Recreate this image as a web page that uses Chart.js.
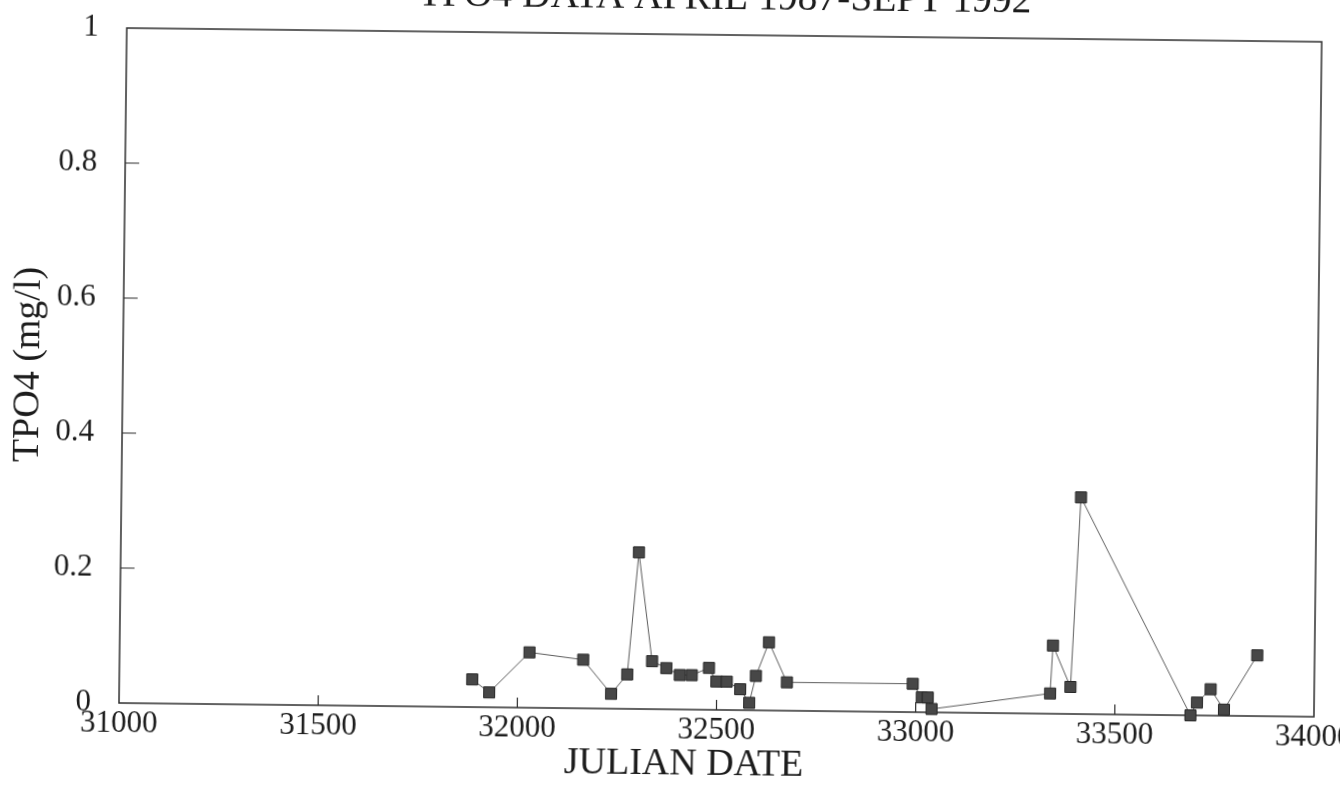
<!DOCTYPE html>
<html>
<head>
<meta charset="utf-8">
<title>TPO4 DATA APRIL 1987-SEPT 1992</title>
<script src="https://cdn.jsdelivr.net/npm/chart.js@4.4.1/dist/chart.umd.min.js"></script>
<style>
  html, body { margin: 0; padding: 0; background: #ffffff; overflow: hidden; width: 1340px; height: 795px; }
  #wrap {
    position: absolute; left: 0; top: -35px; width: 1400px; height: 830px;
    transform: rotate(0.66deg); transform-origin: 119px 738px;
  }
  canvas { display: block; }
</style>
</head>
<body>
<div id="wrap"><canvas id="chart" width="1400" height="830"></canvas></div>
<script>
// Sampling dates (Julian day) and total phosphate readings (mg/l)
const julianDates = [31886, 31929, 32029, 32164, 32235, 32275, 32301, 32337, 32373, 32407,
                     32437, 32480, 32499, 32525, 32559, 32582, 32598, 32630, 32676, 32992,
                     33015, 33030, 33040, 33337, 33343, 33388, 33409, 33690, 33706, 33740,
                     33774, 33856];
const tpo4 = [0.041, 0.022, 0.082, 0.072, 0.022, 0.051, 0.232, 0.071, 0.061, 0.051,
              0.051, 0.062, 0.042, 0.042, 0.031, 0.011, 0.051, 0.101, 0.042, 0.042,
              0.022, 0.022, 0.005, 0.030, 0.101, 0.040, 0.321, 0.000, 0.019, 0.039,
              0.009, 0.090];
const xTicks = [31000, 31500, 32000, 32500, 33000, 33500, 34000];
const yTicks = [0, 0.2, 0.4, 0.6, 0.8, 1];

const chartTitle = 'TPO4 DATA APRIL 1987-SEPT 1992';
const xTitle = 'JULIAN DATE';
const yTitle = 'TPO4 (mg/l)';

const serif = "'Liberation Serif', 'Times New Roman', serif";
const ink = '#1c1c1c';

const points = julianDates.map((d, i) => ({ x: d, y: tpo4[i] }));

// Boxed frame with inward tick marks, plus the horizontal axis caption
const frameAndTicks = {
  id: 'frameAndTicks',
  beforeDatasetsDraw(chart) {
    const { ctx, chartArea: a, scales: { x, y } } = chart;
    ctx.save();
    ctx.strokeStyle = '#2e2e2e';
    ctx.lineWidth = 1.5;
    ctx.strokeRect(a.left, a.top, a.right - a.left, a.bottom - a.top);
    ctx.lineWidth = 1.2;
    ctx.beginPath();
    x.ticks.forEach(t => {
      const px = x.getPixelForValue(t.value);
      if (px > a.left + 1 && px < a.right - 1) {
        ctx.moveTo(px, a.bottom);
        ctx.lineTo(px, a.bottom - 10);
      }
    });
    y.ticks.forEach(t => {
      const py = y.getPixelForValue(t.value);
      if (py > a.top + 1 && py < a.bottom - 1) {
        ctx.moveTo(a.left, py);
        ctx.lineTo(a.left + 14, py);
      }
    });
    ctx.stroke();
    ctx.restore();
  },
  afterDraw(chart) {
    const { ctx, chartArea: a } = chart;
    ctx.save();
    ctx.fillStyle = ink;
    ctx.font = "38px " + serif;
    ctx.textAlign = 'center';
    ctx.textBaseline = 'middle';
    ctx.fillText(xTitle, a.left + (a.right - a.left) * 0.473, a.bottom + 55);
    ctx.restore();
  }
};

new Chart(document.getElementById('chart'), {
  type: 'scatter',
  data: {
    datasets: [{
      data: points,
      showLine: true,
      borderColor: '#5c5c5c',
      borderWidth: 1,
      tension: 0,
      pointStyle: 'rect',
      pointRadius: 7.8,
      pointHoverRadius: 7.8,
      pointBackgroundColor: '#474747',
      pointBorderColor: '#262626',
      pointBorderWidth: 1,
      clip: false
    }]
  },
  options: {
    responsive: false,
    animation: false,
    devicePixelRatio: 1,
    events: [],
    layout: { padding: { left: 0, right: 86, top: 0, bottom: 0 } },
    plugins: {
      legend: { display: false },
      tooltip: { enabled: false },
      title: {
        display: true,
        fullSize: false,
        text: chartTitle,
        color: ink,
        font: { family: serif, size: 39.5, weight: 'normal', lineHeight: 1.2 },
        padding: { top: 2.5, bottom: 13.1 }
      }
    },
    scales: {
      x: {
        type: 'linear',
        min: 31000,
        max: 34000,
        afterBuildTicks: s => { s.ticks = xTicks.map(v => ({ value: v })); },
        afterFit: s => { s.height = 92; },
        grid: { display: false, drawTicks: false },
        border: { display: false },
        ticks: {
          autoSkip: false, maxRotation: 0, minRotation: 0, padding: 2,
          color: ink, font: { family: serif, size: 31 },
          callback: v => String(v)
        },
        title: { display: false }
      },
      y: {
        type: 'linear',
        min: 0,
        max: 1,
        afterBuildTicks: s => { s.ticks = yTicks.map(v => ({ value: v })); },
        afterFit: s => { s.width = 119; },
        grid: { display: false, drawTicks: false },
        border: { display: false },
        ticks: {
          padding: 28,
          color: ink, font: { family: serif, size: 31 },
          callback: v => String(v)
        },
        title: {
          display: true,
          text: yTitle,
          color: ink,
          font: { family: serif, size: 38, weight: 'normal', lineHeight: 1.2 },
          padding: { top: 2, bottom: 0 }
        }
      }
    }
  },
  plugins: [frameAndTicks]
});
</script>
</body>
</html>
